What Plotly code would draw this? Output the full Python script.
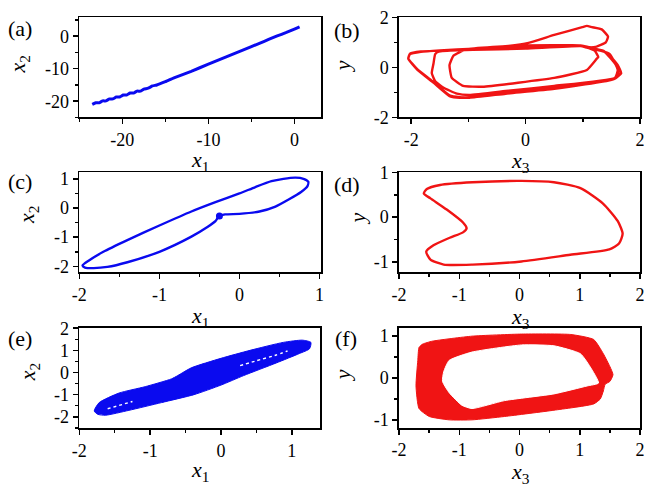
import plotly.graph_objects as go

# ---------------- data ----------------
# (a) x1 vs x2
a_x1 = [-23.5, -23.1, -22.7, -22.3, -21.9, -21.5, -21.1, -20.7, -20.3, -19.9, -19.5, -19.1,
        -18.7, -18.3, -17.9, -17.5, -17.0, -16.5, -16.0, -15.0, -14.0, -12.0, -10.0,
        -8.0, -6.0, -4.0, -3.0, -2.0, -1.0, 0.0, 0.6]
a_x2 = [-21.0, -20.5, -20.5, -19.9, -19.9, -19.3, -19.3, -18.7, -18.7, -18.1, -18.1, -17.5,
        -17.5, -16.9, -16.9, -16.3, -16.0, -15.3, -15.0, -14.0, -12.8, -10.8, -8.6,
        -6.4, -4.3, -2.1, -1.0, 0.1, 1.1, 2.2, 2.9]

# (b) x3 vs y
b_x3 = [1.07, 1.24, 1.40, 1.44, 1.33, 1.16, 1.07, 0.99, 0.50, 0.05, -0.30, -0.90, -1.50,
        -1.83, -2.02, -2.05, -1.89, -1.61, -1.32, -1.15, -0.92, -0.35, 0.50, 1.41, 1.58, 1.67,
        1.61, 1.41, 1.07, 0.96, 0.0, -0.92, -1.83, -2.02, -2.05, -1.89, -1.61, -1.32, -1.15,
        -0.98, -0.35, 0.50, 1.53, 1.63, 1.58, 1.36, 0.96, 0.0, -1.52, -1.58, -1.61, -1.64,
        -1.58, -1.44, -1.20, -0.98, -0.30, 0.50, 1.56, 1.61, 1.47, 1.07, 0.96, -0.07, -1.04,
        -1.26, -1.33, -1.29, -1.09, -0.75, 0.50, 1.07, 1.24, 1.27, 1.21, 0.96, 0.0, -0.60]
b_y = [0.79, 0.83, 1.00, 1.23, 1.52, 1.61, 1.66, 1.61, 1.30, 0.98, 0.86, 0.75, 0.68,
       0.62, 0.53, 0.34, -0.10, -0.61, -1.16, -1.21, -1.16, -0.99, -0.80, -0.55, -0.42, -0.23,
       0.09, 0.60, 0.79, 0.85, 0.75, 0.70, 0.64, 0.55, 0.36, -0.08, -0.58, -1.13, -1.19,
       -1.21, -1.05, -0.86, -0.48, -0.29, 0.09, 0.66, 0.85, 0.78, 0.63, 0.53, 0.15, -0.23,
       -0.55, -0.80, -1.05, -1.10, -0.93, -0.74, -0.42, -0.10, 0.53, 0.83, 0.88, 0.88, 0.72,
       0.47, 0.09, -0.42, -0.74, -0.77, -0.42, -0.10, 0.34, 0.41, 0.66, 0.88, 0.86, 0.80]

# (c) x1 vs x2
c_x1 = [-0.25, -0.18, 0.0, 0.25, 0.45, 0.62, 0.77, 0.85, 0.86, 0.80, 0.70, 0.55, 0.40, 0.20,
        0.0, -0.30, -0.60, -1.00, -1.40, -1.70, -1.88, -1.96, -1.93, -1.82, -1.65, -1.40,
        -1.00, -0.60, -0.40, -0.30, -0.27, -0.25]
c_x2 = [-0.27, -0.22, -0.20, -0.12, 0.05, 0.30, 0.55, 0.75, 0.90, 1.00, 1.04, 1.00, 0.92, 0.72,
        0.50, 0.20, -0.12, -0.60, -1.10, -1.50, -1.80, -1.97, -2.04, -2.06, -2.02, -1.86,
        -1.50, -0.98, -0.65, -0.45, -0.33, -0.27]
c_dot_x1 = [-0.25]
c_dot_x2 = [-0.27]

# (d) x3 vs y
d_x3 = [-1.59, -1.54, -1.32, -0.78, 0.03, 0.57, 1.01, 1.38, 1.63, 1.71, 1.65, 1.49, 0.84,
        0.03, -0.78, -1.26, -1.48, -1.55, -1.43, -1.16, -0.94, -0.88, -0.94, -1.21, -1.48, -1.59]
d_y = [0.53, 0.63, 0.72, 0.78, 0.81, 0.78, 0.65, 0.31, -0.09, -0.37, -0.59, -0.72, -0.84,
       -0.99, -1.06, -1.06, -0.95, -0.77, -0.63, -0.46, -0.34, -0.25, -0.12, 0.17, 0.42, 0.53]

# (e) x1 vs x2 : outline of the filled band and the white gaps inside it
e_x1 = [-1.79, -1.72, -1.44, -1.07, -0.70, -0.61, -0.42, 0.00, 0.41, 0.88, 1.15, 1.27,
        1.25, 1.11, 0.78, 0.32, 0.00, -0.38, -0.84, -1.30, -1.63, -1.74, -1.79]
e_x2 = [-1.74, -1.36, -0.93, -0.64, -0.29, -0.14, 0.21, 0.64, 1.00, 1.36, 1.46, 1.36,
        1.07, 0.86, 0.43, -0.14, -0.57, -1.00, -1.36, -1.71, -1.93, -1.89, -1.74]
e_gap1_x1 = [0.27, 0.50, 0.78, 0.94]
e_gap1_x2 = [0.31, 0.53, 0.79, 0.97]
e_gap2_x1 = [-1.60, -1.25]
e_gap2_x2 = [-1.64, -1.31]

# (f) x3 vs y : outer and inner outline of the filled ring
f_out_x3 = [-1.61, -1.45, -0.79, 0.03, 0.85, 1.23, 1.39, 1.50, 1.55, 1.50, 1.42, 1.39, 1.34,
            1.23, 0.57, -0.25, -0.79, -1.17, -1.50, -1.67, -1.72, -1.69, -1.67, -1.61]
f_out_y = [0.81, 0.88, 1.00, 1.05, 1.04, 0.92, 0.58, 0.27, 0.08, -0.08, -0.15, -0.31, -0.50,
           -0.62, -0.77, -0.92, -1.00, -1.00, -0.92, -0.73, -0.19, 0.42, 0.73, 0.81]
f_in_x3 = [-1.26, -1.17, -0.79, 0.03, 0.57, 1.01, 1.17, 1.31, 1.12, 0.57, -0.25, -0.79,
           -0.96, -1.17, -1.28, -1.26]
f_in_y = [0.15, 0.42, 0.62, 0.79, 0.77, 0.58, 0.27, -0.12, -0.19, -0.38, -0.54, -0.73,
          -0.65, -0.35, -0.08, 0.15]

# tick labels
a_xticks = [-20, -10, 0]
a_yticks = [-20, -10, 0]
b_xticks = [-2, 0, 2]
b_yticks = [-2, 0, 2]
c_xticks = [-2, -1, 0, 1]
c_yticks = [-2, -1, 0, 1]
d_xticks = [-2, -1, 0, 1, 2]
d_yticks = [-1, 0, 1]
e_xticks = [-2, -1, 0, 1]
e_yticks = [-2, -1, 0, 1, 2]
f_xticks = [-2, -1, 0, 1, 2]
f_yticks = [-1, 0, 1]

panel_labels = ["(a)", "(b)", "(c)", "(d)", "(e)", "(f)"]
x_titles = ["<i>x</i><sub>1</sub>", "<i>x</i><sub>3</sub>", "<i>x</i><sub>1</sub>",
            "<i>x</i><sub>3</sub>", "<i>x</i><sub>1</sub>", "<i>x</i><sub>3</sub>"]
y_titles = ["<i>x</i><sub>2</sub>", "<i>y</i>", "<i>x</i><sub>2</sub>",
            "<i>y</i>", "<i>x</i><sub>2</sub>", "<i>y</i>"]

BLUE = "#0a0aef"
RED = "#f01414"
FONT = "Liberation Serif"
W, H = 650, 492

fig = go.Figure()

def tr(x, y, k, color, width=2.6, smooth=0.5, dash="solid", **kw):
    fig.add_trace(go.Scatter(x=x, y=y, mode="lines",
                             line=dict(color=color, width=width, shape="spline",
                                       smoothing=smooth, dash=dash),
                             xaxis="x" if k == 1 else f"x{k}", yaxis="y" if k == 1 else f"y{k}",
                             showlegend=False, hoverinfo="skip", **kw))

tr(a_x1, a_x2, 1, BLUE, 3.0, 0.3)
tr(b_x3, b_y, 2, RED, 2.4, 0.4)
tr(c_x1, c_x2, 3, BLUE, 2.4, 0.6)
fig.add_trace(go.Scatter(x=c_dot_x1, y=c_dot_x2, mode="markers", marker=dict(color=BLUE, size=7),
                         xaxis="x3", yaxis="y3", showlegend=False, hoverinfo="skip"))
tr(d_x3, d_y, 4, RED, 2.4, 0.6)
tr(e_x1, e_x2, 5, BLUE, 1.0, 0.6, fill="toself", fillcolor=BLUE)
tr(e_gap1_x1, e_gap1_x2, 5, "white", 1.4, 0.5, dash="dot")
tr(e_gap2_x1, e_gap2_x2, 5, "white", 1.4, 0.5, dash="dot")
tr(f_out_x3, f_out_y, 6, RED, 1.0, 0.5, fill="toself", fillcolor=RED)
tr(f_in_x3, f_in_y, 6, "white", 1.0, 0.5, fill="toself", fillcolor="white")

# pixel layout: (left, right, top, bottom)
boxes = [(73.7, 320, 7.7, 112), (399.5, 645, 7.7, 112),
         (73.7, 320, 169.3, 273.3), (399.5, 645, 169.3, 273.3),
         (73.7, 319, 331.7, 436), (399.5, 645, 331.7, 435.5)]
xranges = [[-25.0, 3.1], [-2.21, 2.0], [-2.0, 1.02], [-2.0, 2.0], [-2.0, 1.4], [-2.0, 2.0]]
yranges = [[-25.0, 5.8], [-2.0, 2.0], [-2.2, 1.22], [-1.23, 1.0], [-2.52, 2.0], [-1.19, 1.19]]
xt = [a_xticks, b_xticks, c_xticks, d_xticks, e_xticks, f_xticks]
yt = [a_yticks, b_yticks, c_yticks, d_yticks, e_yticks, f_yticks]
xminor = [5, 1, 0.5, 0.5, 0.5, 0.5]
yminor = [5, 1, 0.5, 0.5, 0.5, 0.5]

def minor_vals(rng, step):
    vals = []
    v = round(rng[0] / step) * step - step
    while v <= rng[1] + 1e-9:
        if v >= rng[0] - 1e-9:
            vals.append(round(v, 6))
        v += step
    return vals

def axis(rng, dom, ticks, mstep, anchor):
    return dict(range=rng, domain=dom, anchor=anchor, showline=True, linecolor="black",
                linewidth=1.8, mirror=True, ticks="outside", ticklen=5, tickwidth=1.5,
                tickcolor="black", tickmode="array", tickvals=ticks,
                ticktext=[str(t) for t in ticks], showgrid=False, zeroline=False,
                fixedrange=True,
                tickfont=dict(family=FONT, size=18, color="black"),
                minor=dict(tickmode="array", tickvals=minor_vals(rng, mstep), ticks="outside",
                           ticklen=3, tickwidth=1.5, tickcolor="black", showgrid=False))

layout = dict(width=W, height=H, margin=dict(l=0, r=0, t=0, b=0), plot_bgcolor="white",
              paper_bgcolor="white", showlegend=False)
for i, (l, r, t, b) in enumerate(boxes):
    k = i + 1
    xs = "xaxis" if k == 1 else f"xaxis{k}"
    ys = "yaxis" if k == 1 else f"yaxis{k}"
    xa = "x" if k == 1 else f"x{k}"
    ya = "y" if k == 1 else f"y{k}"
    layout[xs] = axis(xranges[i], [l / W, r / W], xt[i], xminor[i], ya)
    layout[ys] = axis(yranges[i], [1 - b / H, 1 - t / H], yt[i], yminor[i], xa)
fig.update_layout(**layout)

# panel labels and axis titles (pixel positions)
label_pos = [(13, 19), (346, 21), (13, 179), (346, 182), (13, 342), (345, 342)]
xtitle_pos = [(197, 157), (523, 158), (197, 320), (523, 321), (197, 481), (523, 483)]
ytitle_pos = [(12, 57), (342, 59), (22, 214), (357, 217), (22, 378), (342, 381)]
ann = []
for i in range(6):
    ann.append(dict(text=panel_labels[i], x=label_pos[i][0] / W, y=1 - label_pos[i][1] / H,
                    xref="paper", yref="paper", showarrow=False, xanchor="center",
                    yanchor="middle", font=dict(family=FONT, size=22, color="black")))
    ann.append(dict(text=x_titles[i], x=xtitle_pos[i][0] / W, y=1 - xtitle_pos[i][1] / H,
                    xref="paper", yref="paper", showarrow=False, xanchor="center",
                    yanchor="middle", font=dict(family=FONT, size=22, color="black")))
    ann.append(dict(text=y_titles[i], x=ytitle_pos[i][0] / W, y=1 - ytitle_pos[i][1] / H,
                    xref="paper", yref="paper", showarrow=False, xanchor="center",
                    yanchor="middle", textangle=-90,
                    font=dict(family=FONT, size=22, color="black")))
fig.update_layout(annotations=ann)

fig.write_html("out.html", config={"displayModeBar": False, "staticPlot": True},
               post_script="document.body.style.margin='0';document.body.style.padding='0';"
                           "document.body.style.overflow='hidden';")
